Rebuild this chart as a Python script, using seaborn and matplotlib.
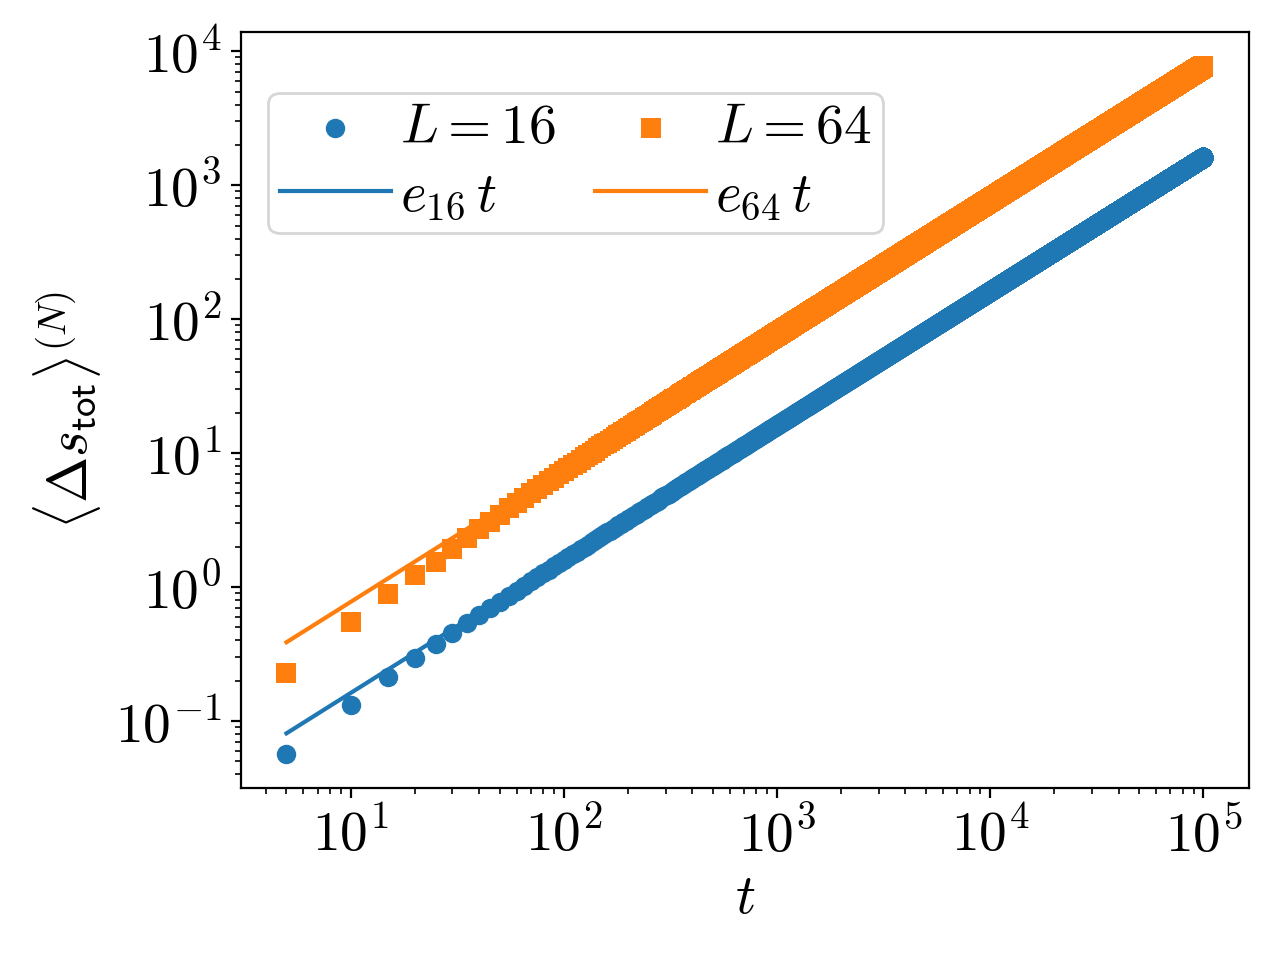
import numpy as np
import pandas as pd
import matplotlib
matplotlib.use("Agg")
import matplotlib.pyplot as plt
import seaborn as sns

plt.rcParams["mathtext.fontset"] = "cm"
plt.rcParams["font.family"] = ["cmr10", "DejaVu Serif"]
plt.rcParams["axes.unicode_minus"] = False
plt.rcParams["axes.formatter.use_mathtext"] = True

# ---- data ----
# early (resolved) points
t16_early = [5, 10, 15, 20, 25, 30]
s16_early = [0.057, 0.131, 0.214, 0.295, 0.376, 0.455]
t64_early = [5, 10, 15, 20, 25, 30]
s64_early = [0.228, 0.55, 0.887, 1.23, 1.54, 1.92]

e16 = 0.0162
e64 = 0.0775
# constant deficit of the dense band below e_L t (read)
off16 = 0.03
off64 = 0.40

t_step = 5
t_max = 100000
t_line = [5, 100000]

# ---- build series ----
t_band = np.arange(35, t_max + t_step, t_step)
t16 = np.concatenate([t16_early, t_band])
s16 = np.concatenate([s16_early, e16 * t_band - off16])
t64 = np.concatenate([t64_early, t_band])
s64 = np.concatenate([s64_early, e64 * t_band - off64])

df16 = pd.DataFrame({"t": t16, "s": s16})
df64 = pd.DataFrame({"t": t64, "s": s64})
dl16 = pd.DataFrame({"t": t_line, "s": [e16 * v for v in t_line]})
dl64 = pd.DataFrame({"t": t_line, "s": [e64 * v for v in t_line]})

blue = "#1f77b4"
orange = "#ff7f0e"

fig = plt.figure(figsize=(6.4, 4.8), dpi=200)
ax = fig.add_axes([0.188, 0.179, 0.788, 0.788])

sns.scatterplot(data=df16, x="t", y="s", ax=ax, marker="o", s=49, color=blue,
                linewidth=0, label=r"$L=16$", zorder=2)
sns.lineplot(data=dl16, x="t", y="s", ax=ax, color=blue, lw=1.5,
             label=r"$e_{16}\,t$", zorder=3)
sns.scatterplot(data=df64, x="t", y="s", ax=ax, marker="s", s=49, color=orange,
                linewidth=0, label=r"$L=64$", zorder=2)
sns.lineplot(data=dl64, x="t", y="s", ax=ax, color=orange, lw=1.5,
             label=r"$e_{64}\,t$", zorder=3)

ax.set_xscale("log")
ax.set_yscale("log")
ax.margins(0.05)
for sp in ax.spines.values():
    sp.set_visible(True)
    sp.set_color("black")
    sp.set_linewidth(0.8)
ax.tick_params(which="both", direction="out", labelsize=20, color="black",
               labelcolor="black")
ax.tick_params(which="major", length=3.5, width=0.8)
ax.tick_params(which="minor", length=2, width=0.6)
ax.set_xlabel(r"$t$", fontsize=20, color="black")
ax.set_ylabel(r"$\langle \Delta s_{\mathsf{tot}} \rangle^{(N)}$", fontsize=20,
              color="black")

h, l = ax.get_legend_handles_labels()
ax.legend(h, l, ncol=2, loc="upper left", bbox_to_anchor=(0, 0.956),
          fontsize=20, markerscale=1.0, handlelength=2.0, handletextpad=0.16,
          columnspacing=0.72, borderpad=0.2, labelspacing=0.32, frameon=True)

fig.savefig("out.png", dpi=200)
